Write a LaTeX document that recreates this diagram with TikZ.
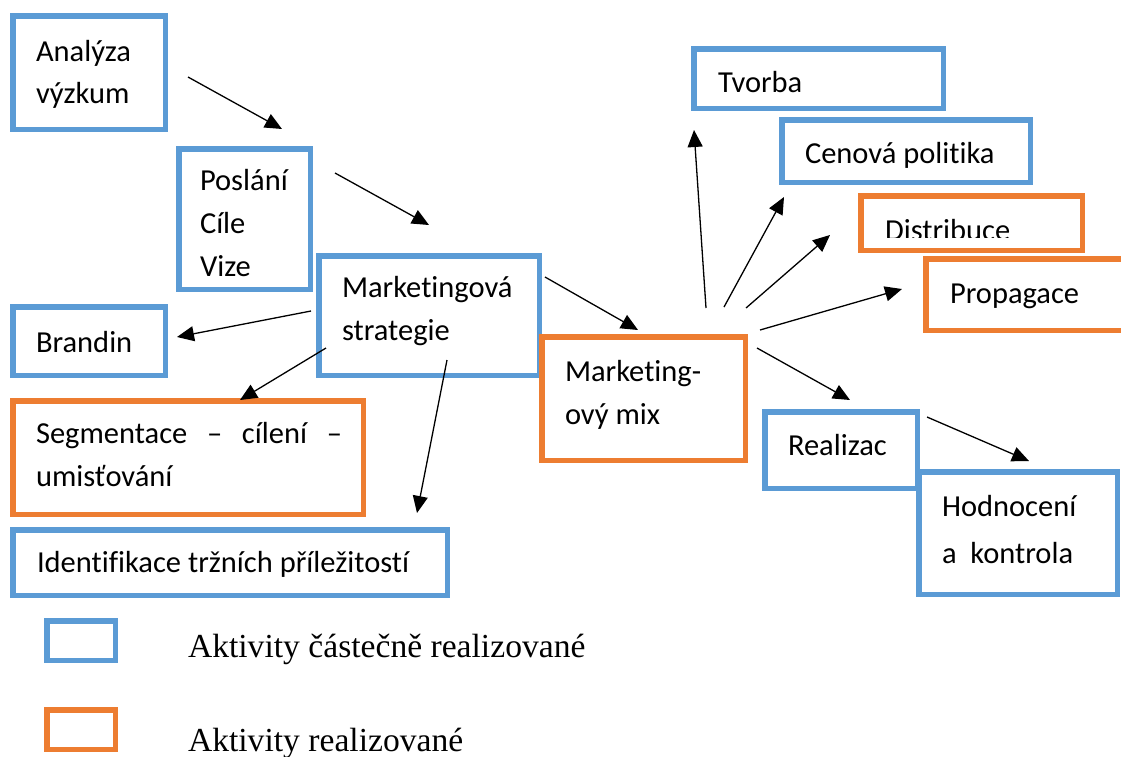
\documentclass[tikz,border=0pt]{standalone}
\usepackage{fontspec}
\setmainfont{Carlito}[Ligatures={NoCommon,NoContextual}]
\newfontfamily\legfont{Liberation Serif}
\usetikzlibrary{arrows.meta}
\definecolor{mblue}{HTML}{5B9BD5}
\definecolor{morange}{HTML}{ED7D31}
\tikzset{
  box/.style={draw, line width=5.5pt, fill=white, inner sep=0pt, outer sep=0pt, anchor=north west},
  bluebox/.style={box, draw=mblue},
  orangebox/.style={box, draw=morange},
  lbl/.style={anchor=base west, inner sep=0pt, outer sep=0pt, font=\fontsize{30.5}{37}\selectfont},
  leg/.style={anchor=base west, inner sep=0pt, outer sep=0pt, font=\legfont\fontsize{33.6}{40}\selectfont},
  arr/.style={-{Triangle[length=17pt,width=15pt]}, line width=1.3pt, draw=black},
}
\begin{document}
\begin{tikzpicture}[x=1pt,y=-1pt]
\useasboundingbox (0,0) rectangle (1121,756);
\clip (0,0) rectangle (1121,756);
\fill[white] (0,0) rectangle (1121,756);

% boxes
\node[bluebox, minimum width=152.5pt, minimum height=113.5pt] (ana) at (12.75,15.75) {};
\node[bluebox, minimum width=131.5pt, minimum height=140.5pt] (pos) at (178.75,148.75) {};
\node[bluebox, minimum width=220.5pt, minimum height=119.5pt] (mks) at (318.75,255.75) {};
\node[bluebox, minimum width=152.5pt, minimum height=68.5pt] (bra) at (12.75,306.75) {};
\node[orangebox, minimum width=350.5pt, minimum height=113.5pt] (seg) at (12.75,400.75) {};
\node[bluebox, minimum width=434.5pt, minimum height=65.5pt] (ide) at (12.75,529.75) {};
\node[orangebox, minimum width=203.5pt, minimum height=123.5pt] (mix) at (541.75,336.75) {};
\node[bluebox, minimum width=249.5pt, minimum height=59.5pt] (tvo) at (693.75,48.75) {};
\node[bluebox, minimum width=248.5pt, minimum height=62.5pt] (cen) at (781.75,119.75) {};
\node[orangebox, minimum width=221.5pt, minimum height=54.5pt] (dis) at (860.75,195.75) {};
\node[orangebox, minimum width=211.5pt, minimum height=71.5pt] (pro) at (925.75,258.75) {};
\node[bluebox, minimum width=152.5pt, minimum height=76.5pt] (rea) at (764.75,411.75) {};
\node[bluebox, minimum width=198.5pt, minimum height=122.5pt] (hod) at (918.75,471.75) {};
\node[bluebox, minimum width=68.5pt, minimum height=39.5pt] (legb) at (46.75,620.75) {};
\node[orangebox, minimum width=68.5pt, minimum height=39.5pt] (lego) at (46.75,709.75) {};

% texts
\node[lbl] (ana1) at (36,61) {Analýza};
\node[lbl] (ana2) at (36,103) {výzkum};
\node[lbl] (pos1) at (200,190) {Poslání};
\node[lbl] (pos2) at (200,233) {Cíle};
\node[lbl] (pos3) at (200,276) {Vize};
\node[lbl] (mks1) at (342,297) {Marketingová};
\node[lbl] (mks2) at (342,340) {strategie};
\node[lbl] (bra1) at (36,352) {Brandin};
\node[lbl] (seg1) at (36,443) {\hbox to 306pt{Segmentace\hfill–\hfill cílení\hfill–}};
\node[lbl] (seg2) at (36,486) {umisťování};
\node[lbl] (ide1) at (37,572) {Identifikace tržních příležitostí};
\node[lbl] (mix1) at (565,381) {Marketing-};
\node[lbl] (mix2) at (565,424) {ový mix};
\node[lbl] (tvo1) at (718,92) {Tvorba};
\node[lbl] (cen1) at (805,163) {Cenová politika};
\begin{scope}
  \clip (860,190) rectangle (1085,237);
  \node[lbl] (dis1) at (885,240) {Distribuce};
\end{scope}
\node[lbl] (pro1) at (950,303) {Propagace};
\node[lbl] (rea1) at (788,455) {Realizac};
\node[lbl] (hod1) at (942,516) {Hodnocení};
\node[lbl] (hod2) at (942,563) {a\ \ kontrola};
\node[leg] (legt1) at (188,657) {Aktivity částečně realizované};
\node[leg] (legt2) at (188,751) {Aktivity realizované};

% connector end points
\coordinate (a1s) at (188,77);  \coordinate (a1e) at (282,129);
\coordinate (a2s) at (335,173); \coordinate (a2e) at (429,225);
\coordinate (a3s) at (311,311); \coordinate (a3e) at (177,337);
\coordinate (a4s) at (326,348); \coordinate (a4e) at (240,400);
\coordinate (a5s) at (447,360); \coordinate (a5e) at (417,513);
\coordinate (a6s) at (545,277); \coordinate (a6e) at (638,330);
\coordinate (a7s) at (706,308); \coordinate (a7e) at (694,130);
\coordinate (a8s) at (724,307); \coordinate (a8e) at (784,197);
\coordinate (a9s) at (746,308); \coordinate (a9e) at (830,235);
\coordinate (a10s) at (760,330); \coordinate (a10e) at (902,289);
\coordinate (a11s) at (757,348); \coordinate (a11e) at (850,400);
\coordinate (a12s) at (927,417); \coordinate (a12e) at (1029,461);

\draw[arr] (a1s) -- (a1e);
\draw[arr] (a2s) -- (a2e);
\draw[arr] (a3s) -- (a3e);
\draw[arr] (a4s) -- (a4e);
\draw[arr] (a5s) -- (a5e);
\draw[arr] (a6s) -- (a6e);
\draw[arr] (a7s) -- (a7e);
\draw[arr] (a8s) -- (a8e);
\draw[arr] (a9s) -- (a9e);
\draw[arr] (a10s) -- (a10e);
\draw[arr] (a11s) -- (a11e);
\draw[arr] (a12s) -- (a12e);
\end{tikzpicture}
\end{document}
